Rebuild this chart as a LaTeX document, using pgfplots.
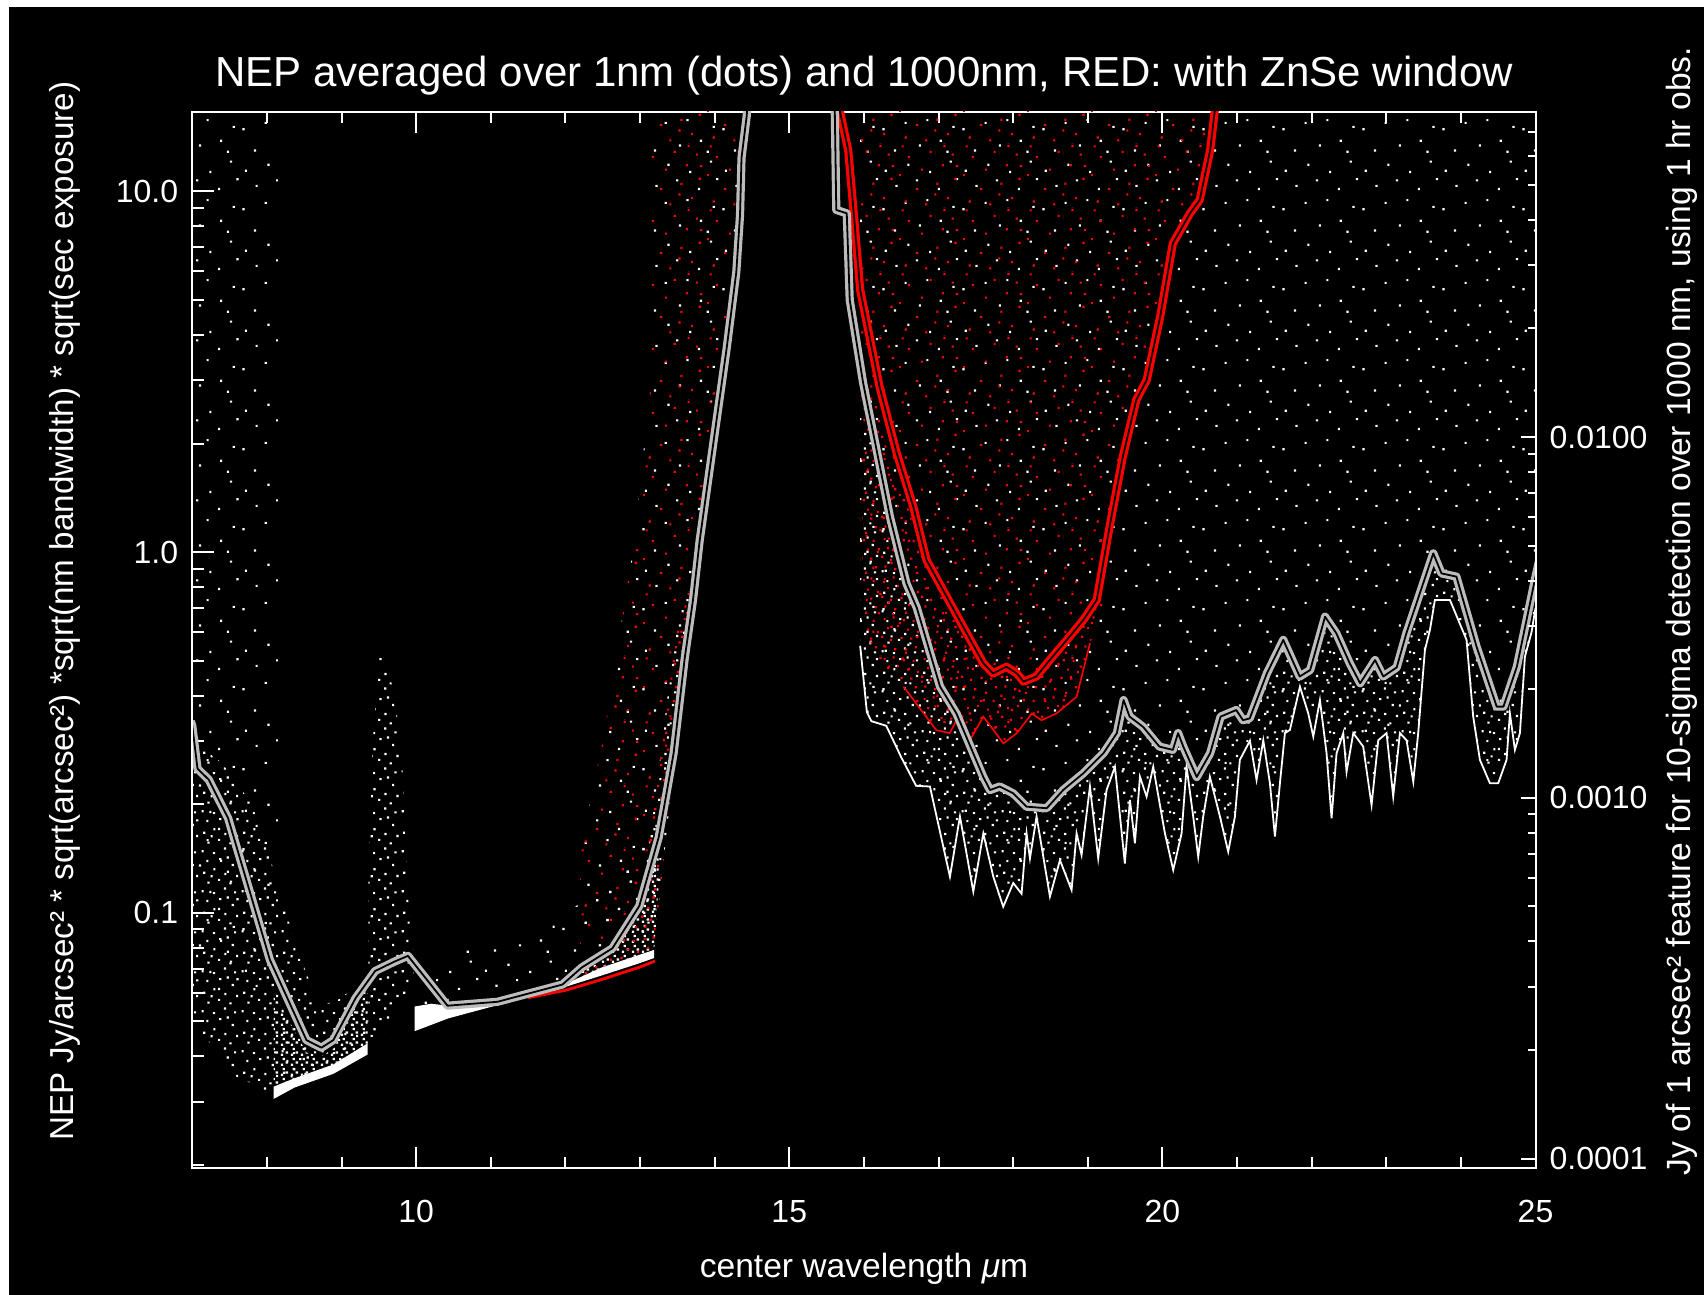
\documentclass[border=0pt]{standalone}
\usepackage{fontspec}
\setmainfont{Liberation Sans}
\usepackage{pgfplots}
\usepackage{pgfplotstable}
\pgfplotsset{compat=1.18}
\usetikzlibrary{patterns.meta}
\definecolor{lgray}{RGB}{188,188,188}

\newcommand\dt[2]{\pgfpathrectangle{\pgfqpoint{#1pt}{#2pt}}{\pgfqpoint{0.55pt}{0.55pt}}}
\tikzdeclarepattern{name=wsparse, type=uncolored,
  bottom left={(0pt,0pt)}, top right={(20pt,20pt)}, tile size={(20pt,20pt)},
  code={\dt{1.2}{0.8}\dt{6.9}{2.3}\dt{12.4}{0.5}\dt{17.6}{3.1}\dt{3.5}{5.9}\dt{9.8}{7.2}\dt{15.1}{8.4}\dt{0.6}{11.3}
        \dt{6.2}{12.9}\dt{11.7}{13.6}\dt{18.3}{11.9}\dt{3.9}{17.2}\dt{9.1}{18.6}\dt{14.6}{16.4}\dt{19.2}{18.9}\dt{16.8}{5.6}
        \pgfusepath{fill}}}
\tikzdeclarepattern{name=wmed, type=uncolored,
  bottom left={(0pt,0pt)}, top right={(10pt,10pt)}, tile size={(10pt,10pt)},
  code={\dt{0.4}{0.7}\dt{3.3}{0.2}\dt{6.1}{1.4}\dt{8.7}{0.4}\dt{1.9}{2.9}\dt{4.6}{3.6}\dt{7.5}{2.7}\dt{9.2}{4.6}
        \dt{0.8}{5.4}\dt{3.4}{6.3}\dt{6.2}{5.1}\dt{8.1}{7.4}\dt{1.6}{8.4}\dt{4.9}{8.9}\dt{6.8}{9.3}\dt{2.7}{4.5}
        \pgfusepath{fill}}}
\tikzdeclarepattern{name=wdense, type=uncolored,
  bottom left={(0pt,0pt)}, top right={(2.6pt,2.6pt)}, tile size={(2.6pt,2.6pt)},
  code={
    \pgfpathrectangle{\pgfqpoint{0.2pt}{0.3pt}}{\pgfqpoint{0.6pt}{0.6pt}}
    \pgfpathrectangle{\pgfqpoint{1.5pt}{0.9pt}}{\pgfqpoint{0.6pt}{0.6pt}}
    \pgfpathrectangle{\pgfqpoint{0.7pt}{1.8pt}}{\pgfqpoint{0.6pt}{0.6pt}}
    \pgfusepath{fill}}}
\tikzdeclarepattern{name=rsparse, type=uncolored,
  bottom left={(0pt,0pt)}, top right={(16pt,16pt)}, tile size={(16pt,16pt)},
  code={\dt{2.2}{1.1}\dt{7.4}{0.4}\dt{12.9}{2.0}\dt{5.1}{4.3}\dt{10.2}{5.6}\dt{14.8}{6.9}\dt{0.7}{7.8}\dt{6.3}{9.2}
        \dt{11.6}{10.3}\dt{3.0}{12.4}\dt{8.5}{13.7}\dt{14.1}{13.0}\dt{1.4}{15.1}\dt{12.0}{15.2}\dt{9.7}{2.9}\dt{15.2}{10.1}
        \pgfusepath{fill}}}
\tikzdeclarepattern{name=rmed, type=uncolored,
  bottom left={(0pt,0pt)}, top right={(10pt,10pt)}, tile size={(10pt,10pt)},
  code={\dt{1.1}{1.9}\dt{3.6}{1.2}\dt{6.4}{0.3}\dt{8.9}{1.7}\dt{0.3}{4.4}\dt{2.5}{3.6}\dt{5.2}{4.1}\dt{7.7}{3.9}
        \dt{9.4}{5.6}\dt{1.8}{6.6}\dt{4.3}{7.1}\dt{6.9}{6.2}\dt{0.9}{8.9}\dt{3.2}{9.3}\dt{5.8}{8.6}\dt{8.3}{8.4}
        \pgfusepath{fill}}}

% 1000 nm average, no window (gray)
\pgfplotstableread{
x y
6.98 0.34
7.00 0.33
7.07 0.251
7.22 0.234
7.48 0.183
8.04 0.0741
8.53 0.0444
8.73 0.0423
8.89 0.0444
9.19 0.0581
9.45 0.0690
9.71 0.0733
9.89 0.0760
10.42 0.0553
11.09 0.0567
11.96 0.0633
12.22 0.0706
12.63 0.0798
12.99 0.1045
13.25 0.162
13.45 0.277
13.60 0.51
13.71 0.737
13.80 1.08
13.98 1.99
14.16 3.66
14.29 5.97
14.34 8.61
14.36 12.4
14.43 16.2
14.50 30
15.55 30
15.61 16.6
15.63 8.88
15.77 8.69
15.81 5.0
15.99 2.94
16.17 1.92
16.35 1.25
16.57 0.819
16.71 0.70
17.02 0.424
17.24 0.357
17.60 0.238
17.69 0.219
17.82 0.224
18.00 0.2145
18.18 0.197
18.45 0.195
18.67 0.219
18.94 0.2437
19.21 0.277
19.39 0.315
19.48 0.389
19.56 0.35
19.74 0.328
19.96 0.289
20.14 0.283
20.21 0.315
20.28 0.289
20.46 0.238
20.64 0.277
20.78 0.35
20.99 0.365
21.08 0.342
21.17 0.346
21.40 0.461
21.62 0.571
21.84 0.452
21.98 0.471
22.18 0.662
22.33 0.596
22.51 0.492
22.65 0.433
22.85 0.502
22.96 0.452
23.14 0.479
23.27 0.596
23.45 0.769
23.63 0.992
23.74 0.873
23.94 0.855
24.21 0.547
24.48 0.373
24.57 0.373
24.75 0.481
25.00 0.855
25.05 0.95
}\graytab

% 1000 nm average, ZnSe window (red)
\pgfplotstableread{
x y
15.62 30
15.68 16.6
15.79 13.0
15.86 8.88
15.95 5.33
16.21 2.87
16.44 1.88
16.66 1.34
16.84 0.95
17.11 0.752
17.33 0.621
17.60 0.492
17.73 0.461
17.91 0.481
18.05 0.461
18.14 0.4375
18.31 0.452
18.49 0.502
18.72 0.571
18.94 0.648
19.12 0.737
19.30 1.2
19.47 1.84
19.65 2.64
19.79 3.0
19.97 4.49
20.14 7.17
20.37 8.69
20.50 9.46
20.64 13.0
20.70 16.6
20.75 30
}\redtab

% lower edge of the 1 nm dots (no window), 16-25 um
\pgfplotstableread{
x y
15.95 0.55
16.04 0.36
16.10 0.34
16.30 0.33
16.50 0.27
16.70 0.225
16.885 0.224
17.153 0.126
17.287 0.185
17.466 0.1146
17.600 0.166
17.734 0.126
17.867 0.104
18.001 0.121
18.113 0.113
18.180 0.166
18.225 0.1416
18.314 0.185
18.493 0.111
18.627 0.140
18.783 0.1157
18.850 0.166
18.917 0.1447
19.029 0.224
19.140 0.1416
19.252 0.219
19.364 0.254
19.497 0.137
19.565 0.2056
19.632 0.156
19.699 0.2385
19.788 0.210
19.877 0.254
20.034 0.166
20.145 0.1315
20.257 0.166
20.324 0.254
20.413 0.185
20.480 0.143
20.547 0.185
20.636 0.2385
20.771 0.185
20.882 0.1478
20.972 0.185
21.038 0.2655
21.173 0.30
21.262 0.2335
21.352 0.301
21.441 0.2287
21.508 0.1627
21.575 0.2287
21.642 0.315
21.709 0.3215
21.843 0.4236
21.955 0.357
22.022 0.308
22.111 0.389
22.200 0.277
22.267 0.183
22.334 0.277
22.424 0.315
22.468 0.246
22.558 0.315
22.691 0.289
22.803 0.199
22.893 0.301
23.004 0.315
23.093 0.210
23.183 0.315
23.272 0.301
23.362 0.231
23.428 0.315
23.518 0.535
23.585 0.608
23.652 0.737
23.853 0.737
24.076 0.571
24.165 0.35
24.255 0.2655
24.389 0.2287
24.500 0.2287
24.612 0.2655
24.657 0.357
24.724 0.283
24.791 0.315
24.858 0.513
24.947 0.60
25.00 0.70
}\envtab

\begin{document}
\begin{tikzpicture}
\fill[white] (0pt,0pt) rectangle (426pt,323.75pt);
\fill[black] (2.2pt,0pt) rectangle (426pt,322pt);

\begin{axis}[
  at={(48.075pt,31.75pt)}, anchor=south west,
  scale only axis, width=335.8pt, height=264pt,
  xmin=7, xmax=25, ymode=log, ymin=0.01963, ymax=16.59,
  axis line style={white, line width=0.5pt},
  tick style={white, line width=0.5pt},
  tick align=inside,
  major tick length=5.3pt, minor tick length=2.8pt,
  xtick={10,15,20,25}, xticklabels={10,15,20,25},
  minor xtick={7,8,9,11,12,13,14,16,17,18,19,21,22,23,24},
  xtick pos=both, xticklabel pos=lower,
  ytick={0.1,1,10}, yticklabels={0.1,1.0,10.0},
  minor ytick={0.02,0.03,0.04,0.05,0.06,0.07,0.08,0.09,0.2,0.3,0.4,0.5,0.6,0.7,0.8,0.9,2,3,4,5,6,7,8,9},
  ytick pos=left, yticklabel pos=left,
  xticklabel style={text=white, font=\fontsize{8}{9}\selectfont, yshift=-4.5pt},
  yticklabel style={text=white, font=\fontsize{8}{9}\selectfont},
]
% ---- 1 nm dots, no window (white), 16-25 um ----
\addplot[draw=none, pattern=wsparse, pattern color=white] table {\envtab} -- (axis cs:25,20) -- (axis cs:15.95,20) -- cycle;
\addplot[draw=none, pattern=wmed, pattern color=white] coordinates {
(15.95,0.55) (16.04,0.36) (16.10,0.34) (16.30,0.33) (16.50,0.27) (16.70,0.225) (16.885,0.224) (17.153,0.126) (17.287,0.185) (17.466,0.1146) (17.600,0.166) (17.734,0.126) (17.867,0.104) (18.001,0.121) (18.113,0.113) (18.180,0.166) (18.225,0.1416) (18.314,0.185) (18.493,0.111) (18.627,0.140) (18.783,0.1157) (18.850,0.166) (18.917,0.1447) (19.029,0.224) (19.140,0.1416) (19.252,0.219) (19.364,0.254) (19.497,0.137) (19.565,0.2056) (19.632,0.156) (19.699,0.2385) (19.788,0.210) (19.877,0.254) (20.034,0.166) (20.145,0.1315) (20.257,0.166) (20.324,0.254) (20.413,0.185) (20.480,0.143) (20.547,0.185) (20.636,0.2385) (20.771,0.185) (20.882,0.1478) (20.972,0.185) (21.038,0.2655) (21.173,0.30) (21.262,0.2335) (21.352,0.301) (21.441,0.2287) (21.508,0.1627) (21.575,0.2287) (21.642,0.315) (21.709,0.3215) (21.843,0.4236) (21.955,0.357) (22.022,0.308) (22.111,0.389) (22.200,0.277) (22.267,0.183) (22.334,0.277) (22.424,0.315) (22.468,0.246) (22.558,0.315) (22.691,0.289) (22.803,0.199) (22.893,0.301) (23.004,0.315) (23.093,0.210) (23.183,0.315) (23.272,0.301) (23.362,0.231) (23.428,0.315) (23.518,0.535) (23.585,0.608) (23.652,0.737) (23.853,0.737) (24.076,0.571) (24.165,0.35) (24.255,0.2655) (24.389,0.2287) (24.500,0.2287) (24.612,0.2655) (24.657,0.357) (24.724,0.283) (24.791,0.315) (24.858,0.513) (24.947,0.60) (25.00,0.70)
(25.00,0.855) (24.75,0.481) (24.57,0.373) (24.48,0.373) (24.21,0.547) (23.94,0.855) (23.74,0.873) (23.63,0.992) (23.45,0.769) (23.27,0.596) (23.14,0.479) (22.96,0.452) (22.85,0.502) (22.65,0.433) (22.51,0.492) (22.33,0.596) (22.18,0.662) (21.98,0.471) (21.84,0.452) (21.62,0.571) (21.40,0.461) (21.17,0.346) (21.08,0.342) (20.99,0.365) (20.78,0.35) (20.64,0.277) (20.46,0.238) (20.28,0.289) (20.21,0.315) (20.14,0.283) (19.96,0.289) (19.74,0.328) (19.56,0.35) (19.48,0.389) (19.39,0.315) (19.21,0.277) (18.94,0.2437) (18.67,0.219) (18.45,0.195) (18.18,0.197) (18.00,0.2145) (17.82,0.224) (17.69,0.219) (17.60,0.238) (17.24,0.357) (17.02,0.424) (16.71,0.70) (16.57,0.819) (16.35,1.25) (16.17,1.92) (15.99,2.94) (15.95,3.4)} -- cycle;

% ---- 1 nm dots, no window (white), 7-14 um ----
\addplot[draw=none, pattern=wsparse, pattern color=white] coordinates {(7,20) (8.15,20) (8.15,0.06) (7,0.06)} -- cycle;
\addplot[draw=none, pattern=wmed, pattern color=white] coordinates {(7.0,0.05) (7.3,0.042) (7.6,0.035) (7.9,0.033) (8.09,0.031) (8.4,0.034) (8.9,0.037) (9.35,0.042) (9.35,0.068) (9.0,0.058) (8.7,0.055) (8.4,0.08) (8.1,0.13) (7.8,0.2) (7.4,0.26) (7.0,0.3)} -- cycle;
\addplot[draw=none, pattern=wmed, pattern color=white] coordinates {(9.36,0.045) (9.5,0.046) (9.62,0.047) (9.72,0.058) (9.95,0.06) (9.97,0.075) (9.88,0.12) (9.8,0.3) (9.62,0.5) (9.5,0.52) (9.42,0.3) (9.36,0.12)} -- cycle;
\addplot[draw=none, pattern=wsparse, pattern color=white] coordinates {(10.0,0.056) (10.43,0.055) (11.1,0.058) (12.0,0.066) (12.6,0.078) (13.0,0.09) (13.25,0.13) (13.1,0.16) (12.6,0.12) (12.0,0.1) (11.0,0.085) (10.4,0.08)} -- cycle;
\addplot[draw=none, pattern=wsparse, pattern color=white] coordinates {(12.2,0.075) (13.0,0.095) (13.25,0.16) (13.45,0.277) (13.60,0.51) (13.71,0.737) (13.80,1.08) (13.98,1.99) (14.16,3.66) (14.29,5.97) (14.34,8.61) (14.36,12.4) (14.40,20) (13.15,20) (13.15,3) (12.9,1.0) (12.5,0.3) (12.2,0.15)} -- cycle;
\addplot[draw=none, pattern=rsparse, pattern color=red] coordinates {(12.2,0.075) (13.0,0.095) (13.25,0.16) (13.45,0.277) (13.60,0.51) (13.71,0.737) (13.80,1.08) (13.98,1.99) (14.16,3.66) (14.29,5.97) (14.34,8.61) (14.36,12.4) (14.40,20) (13.15,20) (13.15,3) (12.9,1.0) (12.5,0.3) (12.2,0.15)} -- cycle;
\addplot[draw=none, pattern=wmed, pattern color=white] coordinates {(12.95,0.085) (13.22,0.092) (13.3,0.13) (13.42,0.22) (13.55,0.4) (13.65,0.7) (13.55,0.75) (13.4,0.45) (13.25,0.25) (13.05,0.12)} -- cycle;
\addplot[draw=none, pattern=rmed, pattern color=red] coordinates {(12.95,0.085) (13.22,0.092) (13.3,0.13) (13.42,0.22) (13.55,0.4) (13.65,0.7) (13.55,0.75) (13.4,0.45) (13.25,0.25) (13.05,0.12)} -- cycle;
% dense lower bands
\addplot[draw=none, pattern=wdense, pattern color=white] coordinates {(8.09,0.033) (8.37,0.0348) (8.89,0.038) (9.35,0.0435) (9.35,0.060) (9.19,0.055) (8.89,0.042) (8.73,0.040) (8.53,0.041) (8.3,0.05) (8.09,0.06)} -- cycle;
\addplot[draw=none, fill=white] coordinates {(8.09,0.0305) (8.37,0.0328) (8.89,0.0358) (9.35,0.0405) (9.35,0.0435) (8.89,0.038) (8.37,0.0348) (8.09,0.033)} -- cycle;
\addplot[red, line width=0.7pt] coordinates {(11.5,0.0582) (12.0,0.0610) (12.5,0.0655) (13.0,0.0708) (13.2,0.0735)};
\addplot[draw=none, fill=white] coordinates {(9.98,0.047) (10.43,0.051) (11.09,0.0555) (11.96,0.062) (12.48,0.067) (12.99,0.0725) (13.19,0.075) (13.19,0.079) (12.99,0.0765) (12.48,0.0705) (12.0,0.0635) (11.09,0.0567) (10.43,0.0553) (10.2,0.056) (9.98,0.055)} -- cycle;
\addplot[draw=none, pattern=wdense, pattern color=white] coordinates {(12.0,0.0635) (12.48,0.0705) (12.99,0.0765) (13.19,0.079) (13.25,0.12) (13.25,0.162) (12.99,0.1045) (12.63,0.0798) (12.22,0.0706)} -- cycle;
\addplot[draw=none, pattern=rmed, pattern color=red] coordinates {(12.0,0.0635) (12.48,0.0705) (12.99,0.0765) (13.19,0.079) (13.25,0.12) (13.25,0.162) (12.99,0.1045) (12.63,0.0798) (12.22,0.0706)} -- cycle;

% ---- 1 nm dots, ZnSe window (red) ----
\addplot[draw=none, pattern=rsparse, pattern color=red] coordinates {(15.93,20) (15.95,3) (16.0,1.0) (16.04,0.547) (16.53,0.424) (16.97,0.321) (17.15,0.315) (17.29,0.357) (17.42,0.301) (17.60,0.350) (17.87,0.295) (18.05,0.315) (18.25,0.357) (18.38,0.342) (18.58,0.357) (18.85,0.397) (19.03,0.559) (19.21,0.691) (19.30,1.0) (19.47,1.84) (19.65,2.64) (19.79,3.0) (19.97,4.49) (20.14,7.17) (20.37,8.69) (20.50,9.46) (20.64,13.0) (20.70,16.6) (20.75,20)} -- cycle;
\addplot[draw=none, pattern=rmed, pattern color=red] coordinates {(16.04,0.547) (16.53,0.424) (16.97,0.321) (17.15,0.315) (17.29,0.357) (17.42,0.301) (17.60,0.350) (17.87,0.295) (18.05,0.315) (18.25,0.357) (18.38,0.342) (18.58,0.357) (18.85,0.397) (19.03,0.559) (19.21,0.691) (19.12,0.737) (18.94,0.648) (18.72,0.571) (18.49,0.502) (18.31,0.452) (18.14,0.4375) (18.05,0.461) (17.91,0.481) (17.73,0.461) (17.60,0.492) (17.33,0.621) (17.11,0.752) (16.84,0.95) (16.66,1.34) (16.44,1.88) (16.21,2.87) (16.0,3.0) (15.97,1.0)} -- cycle;
\addplot[red, line width=0.4pt] coordinates {(16.53,0.424) (16.97,0.321) (17.15,0.315) (17.29,0.357) (17.42,0.301) (17.60,0.350) (17.87,0.295) (18.05,0.315) (18.25,0.357) (18.38,0.342) (18.58,0.357) (18.85,0.397) (19.03,0.559)};

% lower edge of the white dots
\addplot[white, line width=0.45pt] table {\envtab};

% ---- 1000 nm averages ----
\addplot[draw=red, line width=0.8pt, double=black, double distance=0.45pt, line join=round] table {\redtab};
\addplot[draw=lgray, line width=0.8pt, double=black, double distance=0.45pt, line join=round] table {\graytab};
\end{axis}

\begin{axis}[
  at={(48.075pt,31.75pt)}, anchor=south west,
  scale only axis, width=335.8pt, height=264pt,
  xmin=7, xmax=25, ymode=log, ymin=9.42e-5, ymax=0.07963,
  hide x axis,
  axis line style={white, line width=0.5pt},
  tick style={white, line width=0.5pt},
  tick align=inside,
  major tick length=3.6pt, minor tick length=2pt,
  ytick={0.0001,0.001,0.01}, yticklabels={0.0001,0.0010,0.0100},
  minor ytick={0.0002,0.0003,0.0004,0.0005,0.0006,0.0007,0.0008,0.0009,0.002,0.003,0.004,0.005,0.006,0.007,0.008,0.009,0.02,0.03,0.04,0.05,0.06,0.07},
  ytick pos=right, yticklabel pos=right,
  yticklabel style={text=white, font=\fontsize{8}{9}\selectfont},
]
\addplot[draw=none] coordinates {(10,0.001)};
\end{axis}

\node[text=white, anchor=base, font=\fontsize{10.5}{12}\selectfont] at (216pt,302pt) {NEP averaged over 1nm (dots) and 1000nm, RED: with ZnSe window};
\node[text=white, anchor=base, font=\fontsize{8.4}{10}\selectfont] at (216pt,4.25pt) {center wavelength \textit{μ}m};
\node[text=white, rotate=90, font=\fontsize{8.3}{9.9}\selectfont] at (16.25pt,171pt) {NEP Jy/arcsec² * sqrt(arcsec²) *sqrt(nm bandwidth) * sqrt(sec exposure)};
\node[text=white, rotate=90, font=\fontsize{8.4}{10}\selectfont] at (420.5pt,171pt) {Jy of 1 arcsec² feature for 10-sigma detection over 1000 nm, using 1 hr obs.};

\pgfresetboundingbox
\path[use as bounding box] (0pt,0pt) rectangle (426pt,323.75pt);
\end{tikzpicture}
\end{document}
